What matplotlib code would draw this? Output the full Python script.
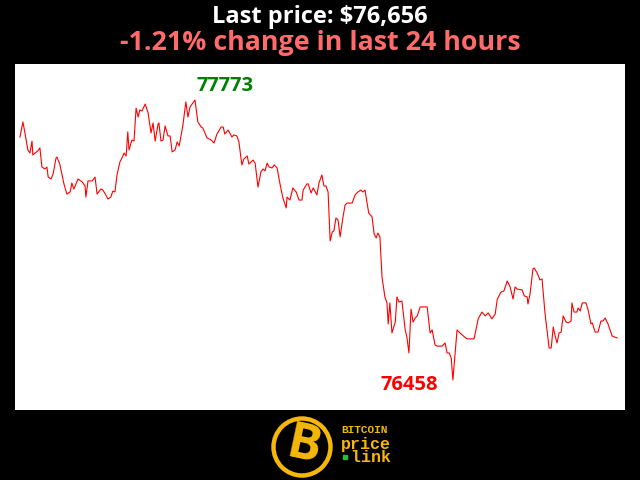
import matplotlib

matplotlib.use("Agg")
import matplotlib.pyplot as plt  # noqa: E402
from matplotlib.patches import Circle  # noqa: E402

# minutes over the last 24 hours, and price in USD
minutes = [
    0, 7, 12, 19, 24, 29, 31, 43, 48, 53, 60, 65, 68, 75, 80, 87, 89, 96, 101, 106,
    113, 121, 125, 130, 140, 150, 157, 159, 164, 174, 181, 186, 195, 200, 207, 212,
    219, 224, 229, 234, 241, 246, 251, 256, 260, 263, 270, 275, 280, 285, 289, 294,
    302, 309, 316, 321, 326, 333, 335, 340, 345, 350, 357, 362, 367, 374, 379, 384,
    393, 400, 405, 410, 417, 422, 429, 437, 441, 451, 461, 468, 475, 485, 490, 494,
    502, 511, 516, 523, 528, 535, 540, 548, 552, 562, 567, 574, 581, 586, 591, 596,
    601, 608, 613, 620, 627, 634, 642, 644, 651, 658, 666, 673, 680, 683, 692, 695,
    702, 707, 716, 721, 728, 733, 738, 743, 748, 753, 757, 762, 767, 772, 779, 784,
    789, 801, 808, 815, 822, 827, 832, 837, 841, 849, 854, 859, 863, 868, 873, 880,
    885, 888, 892, 897, 905, 909, 914, 921, 929, 933, 938, 943, 948, 953, 958, 965,
    982, 989, 994, 1001, 1006, 1018, 1025, 1030, 1035, 1040, 1044, 1054, 1061, 1069,
    1078, 1095, 1105, 1114, 1122, 1129, 1138, 1146, 1151, 1160, 1167, 1175, 1182,
    1189, 1194, 1199, 1211, 1216, 1223, 1225, 1230, 1237, 1240, 1247, 1254, 1259,
    1266, 1276, 1281, 1286, 1290, 1295, 1300, 1305, 1310, 1317, 1322, 1329, 1331,
    1336, 1343, 1346, 1351, 1356, 1365, 1370, 1377, 1380, 1387, 1394, 1401, 1406,
    1411, 1418, 1428, 1433, 1440,
]
prices = [
    77599, 77670, 77618, 77538, 77524, 77580, 77515, 77534, 77548, 77458, 77449,
    77458, 77411, 77402, 77426, 77501, 77505, 77472, 77426, 77379, 77331, 77341,
    77383, 77355, 77402, 77388, 77369, 77317, 77393, 77393, 77411, 77331, 77355,
    77350, 77327, 77308, 77317, 77345, 77341, 77421, 77482, 77501, 77524, 77510,
    77623, 77538, 77585, 77580, 77735, 77693, 77726, 77721, 77754, 77712, 77618,
    77665, 77580, 77660, 77665, 77580, 77585, 77651, 77604, 77604, 77529, 77538,
    77576, 77557, 77656, 77764, 77693, 77740, 77759, 77773, 77670, 77646, 77641,
    77595, 77585, 77571, 77613, 77646, 77646, 77613, 77632, 77599, 77609, 77604,
    77576, 77468, 77496, 77510, 77472, 77491, 77477, 77364, 77435, 77449, 77440,
    77477, 77458, 77454, 77468, 77454, 77379, 77313, 77266, 77317, 77303, 77360,
    77341, 77303, 77303, 77350, 77379, 77379, 77336, 77360, 77327, 77383, 77421,
    77369, 77369, 77341, 77111, 77153, 77158, 77219, 77209, 77130, 77224, 77280,
    77289, 77289, 77327, 77341, 77350, 77341, 77350, 77289, 77242, 77224, 77144,
    77125, 77148, 77130, 76942, 76848, 76820, 76721, 76820, 76679, 76730, 76848,
    76824, 76829, 76693, 76660, 76585, 76791, 76730, 76749, 76759, 76801, 76801,
    76679, 76693, 76622, 76617, 76617, 76632, 76585, 76585, 76561, 76458, 76693,
    76679, 76665, 76651, 76651, 76745, 76777, 76759, 76773, 76745, 76768, 76838,
    76871, 76876, 76923, 76895, 76838, 76895, 76885, 76881, 76853, 76848, 76815,
    76862, 76979, 76984, 76961, 76928, 76932, 76773, 76608, 76608, 76707, 76669,
    76632, 76679, 76683, 76759, 76730, 76726, 76735, 76820, 76777, 76777, 76796,
    76782, 76820, 76820, 76787, 76721, 76726, 76683, 76683, 76735, 76735, 76749,
    76721, 76665, 76660, 76656,
]

last_price = prices[-1]
change_pct = -1.21

GOLD = "#F5B80A"
SALMON = "#FF6B6B"
FONT = ["Open Sans", "DejaVu Sans"]

fig = plt.figure(figsize=(6.4, 4.8), dpi=100, facecolor="black")

# plot area: white box, pixel edges 15..625 x 64..410
ax = fig.add_axes((15 / 640, 70 / 480, 610 / 640, 346 / 480))
ax.set_facecolor("white")
ax.plot(minutes, prices, color="red", linewidth=0.8)
ax.set_xlim(-12, 1459)
ax.set_ylim(76317, 77942)
ax.set_xticks([])
ax.set_yticks([])
for s in ax.spines.values():
    s.set_visible(False)

# extremes
i_hi = prices.index(max(prices))
i_lo = prices.index(min(prices))
ax.annotate(str(prices[i_hi]), (minutes[i_hi], prices[i_hi]), xytext=(1, 3),
            textcoords="offset points", ha="left", va="bottom",
            color="green", fontsize=14.5, fontweight="bold", family=FONT)
ax.annotate(str(prices[i_lo]), (minutes[i_lo], prices[i_lo]), xytext=(-11, -3.5),
            textcoords="offset points", ha="right", va="center",
            color="red", fontsize=14.5, fontweight="bold", family=FONT)

# headline
fig.text(0.5, 1 - 17 / 480, f"Last price: ${last_price:,}", ha="center", va="center",
         color="white", fontsize=17, fontweight="bold", family=FONT)
fig.text(0.5, 1 - 43 / 480, f"{change_pct:.2f}% change in last 24 hours", ha="center",
         va="center", color=SALMON, fontsize=19.3, fontweight="bold", family=FONT)

# logo in pixel coords
lg = fig.add_axes((0, 0, 1, 70 / 480))
lg.set_xlim(0, 640)
lg.set_ylim(70, 0)
lg.set_aspect("equal")
lg.axis("off")
lg.add_patch(Circle((302, 37), 28.5, fill=False, edgecolor=GOLD, linewidth=3.2))
lg.text(304, 37, "B", ha="center", va="center", color=GOLD, fontsize=36,
        fontweight="bold", family=FONT, rotation=-12)
lg.text(341, 20, "BITCOIN", ha="left", va="center", color=GOLD, fontsize=8,
        fontweight="bold", family="Liberation Mono")
lg.text(341, 41, "price\n link", ha="left", va="center", color=GOLD, fontsize=12,
        fontweight="bold", family="Liberation Mono", linespacing=0.85)
lg.plot([345], [47], marker="s", markersize=2.5, color="#22C02A")

fig.savefig("out.png", dpi=100, facecolor="black")
